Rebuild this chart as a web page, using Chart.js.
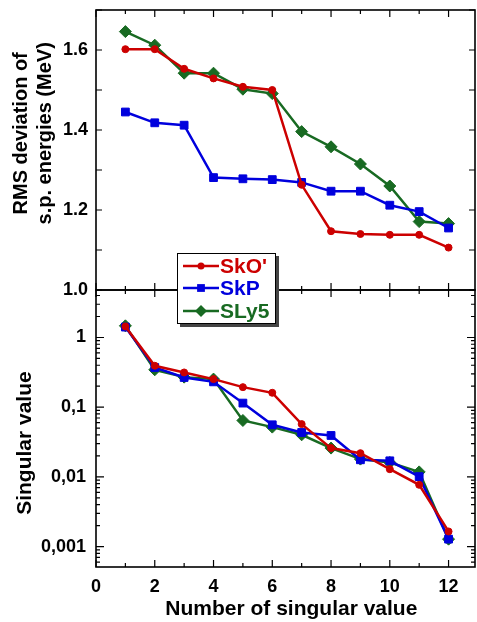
<!DOCTYPE html>
<html>
<head>
<meta charset="utf-8">
<script src="https://cdn.jsdelivr.net/npm/chart.js@4.4.1/dist/chart.umd.min.js"></script>
<style>
  html, body { margin: 0; padding: 0; background: #fff; }
  #wrap { position: relative; width: 477px; height: 622px; overflow: hidden; }
  #topChart { position: absolute; left: 0; top: 0; }
  #bottomChart { position: absolute; left: 0; top: 280px; }
  #legend {
    position: absolute; left: 177px; top: 253px; width: 97px; height: 69px;
    background: #fff; border: 1.5px solid #000; box-shadow: 3px 3px 0 #444;
    font: bold 21px "Liberation Sans", Arial, sans-serif;
  }
  #legend .row { position: absolute; left: 0; height: 20px; display: flex; align-items: center; }
  #legend svg { margin-left: 5px; margin-right: 1px; }
</style>
</head>
<body>
<div id="wrap">
  <canvas id="bottomChart" width="477" height="342"></canvas>
  <canvas id="topChart" width="477" height="300"></canvas>
  <div id="legend"></div>
</div>
<script>
const singularIndex = [1, 2, 3, 4, 5, 6, 7, 8, 9, 10, 11, 12];

// RMS deviation of s.p. energies (MeV)
const rmsSkO  = [1.602, 1.602, 1.553, 1.529, 1.508, 1.500, 1.263, 1.147, 1.140, 1.138, 1.138, 1.106];
const rmsSkP  = [1.445, 1.418, 1.412, 1.281, 1.278, 1.276, 1.269, 1.247, 1.247, 1.212, 1.196, 1.155];
const rmsSLy5 = [1.646, 1.612, 1.542, 1.542, 1.502, 1.491, 1.396, 1.358, 1.315, 1.260, 1.171, 1.166];

// singular values
const svSkO  = [1.44, 0.393, 0.315, 0.253, 0.194, 0.161, 0.0572, 0.0259, 0.0219, 0.0129, 0.0077, 0.00165];
const svSkP  = [1.41, 0.371, 0.267, 0.231, 0.1145, 0.0559, 0.0434, 0.0393, 0.0176, 0.0170, 0.0101, 0.00128];
const svSLy5 = [1.47, 0.344, 0.270, 0.253, 0.0645, 0.0518, 0.0402, 0.0259, 0.0180, 0.0161, 0.0118, 0.00128];

const xTickLabels = [0, 2, 4, 6, 8, 10, 12];
const rmsTickLabels = ['1.0', '1.2', '1.4', '1.6'];
const svTickValues = [1, 0.1, 0.01, 0.001];
const svTickLabels = ['1', '0,1', '0,01', '0,001'];

const series = [
  { name: "SkO'", color: '#cc0000', style: 'circle',  radius: 3.5, rms: rmsSkO,  sv: svSkO },
  { name: 'SkP',  color: '#0000dd', style: 'rect',    radius: 5.5, rms: rmsSkP,  sv: svSkP },
  { name: 'SLy5', color: '#186a22', style: 'rectRot', radius: 6,   rms: rmsSLy5, sv: svSLy5 },
];

const FONT = '"Liberation Sans", Arial, sans-serif';
const tickFont = { family: FONT, size: 18, weight: 'bold' };
const titleFont = { family: FONT, size: 20, weight: 'bold' };

function makeDatasets(key) {
  return series.map(s => ({
    label: s.name,
    data: singularIndex.map((x, i) => ({ x, y: s[key][i] })),
    borderColor: s.color,
    backgroundColor: s.color,
    borderWidth: 2.5,
    pointStyle: s.style,
    pointRadius: s.radius,
    pointBorderWidth: 1,
    tension: 0,
  }));
}

// keep the plot frames at fixed spots: no extra room for half labels
const fixY = s => { s.width = 96; s.paddingTop = 0; s.paddingBottom = 0; };
const fixX = s => { s.height = 55; s.paddingLeft = 0; s.paddingRight = 0; };

// box frame with inward ticks on all four sides
const frameTicks = {
  id: 'frameTicks',
  afterDatasetsDraw(chart) {
    const { ctx, chartArea: a, scales } = chart;
    const xs = scales.x, ys = scales.y;
    ctx.save();
    ctx.strokeStyle = '#000';
    ctx.lineWidth = 1.2;
    ctx.beginPath();
    for (let v = Math.ceil(xs.min); v <= xs.max; v++) {
      const px = xs.getPixelForValue(v);
      const len = v % 2 === 0 ? 7 : 4;
      ctx.moveTo(px, a.bottom); ctx.lineTo(px, a.bottom - len);
      ctx.moveTo(px, a.top); ctx.lineTo(px, a.top + len);
    }
    if (ys.type === 'logarithmic') {
      for (let e = -5; e <= 1; e++) {
        for (let m = 1; m <= 9; m++) {
          const v = m * Math.pow(10, e);
          if (v < ys.min || v > ys.max) continue;
          const py = ys.getPixelForValue(v);
          const len = m === 1 ? 8 : 4;
          ctx.moveTo(a.left, py); ctx.lineTo(a.left + len, py);
          ctx.moveTo(a.right, py); ctx.lineTo(a.right - len, py);
        }
      }
    } else {
      for (let k = Math.ceil(ys.min * 10 - 1e-6); k <= ys.max * 10 + 1e-6; k++) {
        const py = ys.getPixelForValue(k / 10);
        ctx.moveTo(a.left, py); ctx.lineTo(a.left + 6, py);
        ctx.moveTo(a.right, py); ctx.lineTo(a.right - 6, py);
      }
    }
    ctx.stroke();
    ctx.lineWidth = 1.6;
    ctx.strokeRect(a.left, a.top, a.right - a.left, a.bottom - a.top);
    ctx.restore();
  }
};

new Chart(document.getElementById('topChart'), {
  type: 'line',
  data: { datasets: makeDatasets('rms') },
  options: {
    responsive: false,
    animation: false,
    layout: { autoPadding: false, padding: { top: 10, right: 2, bottom: 10, left: 0 } },
    plugins: { legend: { display: false }, tooltip: { enabled: false } },
    scales: {
      x: { type: 'linear', min: 0, max: 12.9, display: false },
      y: {
        min: 1.0, max: 1.7,
        afterFit: fixY,
        grid: { display: false, drawTicks: false },
        border: { display: false },
        ticks: {
          stepSize: 0.1, autoSkip: false, padding: 8, color: '#000', font: tickFont,
          callback: v => {
            const lbl = v.toFixed(1);
            return rmsTickLabels.includes(lbl) ? lbl : '';
          },
        },
        title: {
          display: true,
          text: ['\u00a0\u00a0\u00a0\u00a0\u00a0\u00a0RMS deviation of', '\u00a0\u00a0\u00a0\u00a0\u00a0\u00a0s.p. energies (MeV)'],
          color: '#000', font: titleFont, padding: { top: 9, bottom: 0 },
        },
      },
    },
  },
  plugins: [frameTicks],
});

new Chart(document.getElementById('bottomChart'), {
  type: 'line',
  data: { datasets: makeDatasets('sv') },
  options: {
    responsive: false,
    animation: false,
    layout: { autoPadding: false, padding: { top: 10, right: 2, bottom: 0, left: 0 } },
    plugins: { legend: { display: false }, tooltip: { enabled: false } },
    scales: {
      x: {
        type: 'linear', min: 0, max: 12.9,
        afterFit: fixX,
        grid: { display: false, drawTicks: false },
        border: { display: false },
        ticks: {
          stepSize: 1, includeBounds: false, autoSkip: false, maxRotation: 0,
          padding: 9, color: '#000', font: tickFont,
          callback: v => (xTickLabels.includes(v) ? String(v) : ''),
        },
        title: {
          display: true, text: '\u00a0\u00a0Number of singular value',
          color: '#000', font: { family: FONT, size: 21, weight: 'bold' }, padding: { top: 0, bottom: 0 },
        },
      },
      y: {
        type: 'logarithmic', min: 0.00051, max: 4.8,
        afterFit: fixY,
        grid: { display: false, drawTicks: false },
        border: { display: false },
        ticks: {
          autoSkip: false, padding: 10, color: '#000', font: tickFont,
          callback: v => {
            const i = svTickValues.findIndex(t => Math.abs(Math.log10(v) - Math.log10(t)) < 1e-6);
            return i >= 0 ? svTickLabels[i] : '';
          },
        },
        title: {
          display: true, text: 'Singular value\u00a0\u00a0\u00a0\u00a0\u00a0',
          color: '#000', font: { family: FONT, size: 21, weight: 'bold' }, padding: { top: 13, bottom: 0 },
        },
      },
    },
  },
  plugins: [frameTicks],
});

// legend box straddling both panels
const legend = document.getElementById('legend');
const rowTops = [2, 24, 47];
series.forEach((s, i) => {
  const r = s.radius;
  let marker;
  if (s.style === 'circle') marker = `<circle cx="18" cy="10" r="${r}" fill="${s.color}"/>`;
  else if (s.style === 'rect') { const h = r * Math.SQRT1_2; marker = `<rect x="${18 - h}" y="${10 - h}" width="${2 * h}" height="${2 * h}" fill="${s.color}"/>`; }
  else marker = `<polygon points="18,${10 - r} ${18 + r},10 18,${10 + r} ${18 - r},10" fill="${s.color}"/>`;
  const row = document.createElement('div');
  row.className = 'row';
  row.style.top = rowTops[i] + 'px';
  row.style.color = s.color;
  row.innerHTML = `<svg width="36" height="20"><line x1="0" y1="10" x2="36" y2="10" stroke="${s.color}" stroke-width="2.5"/>${marker}</svg><span>${s.name}</span>`;
  legend.appendChild(row);
});
</script>
</body>
</html>
